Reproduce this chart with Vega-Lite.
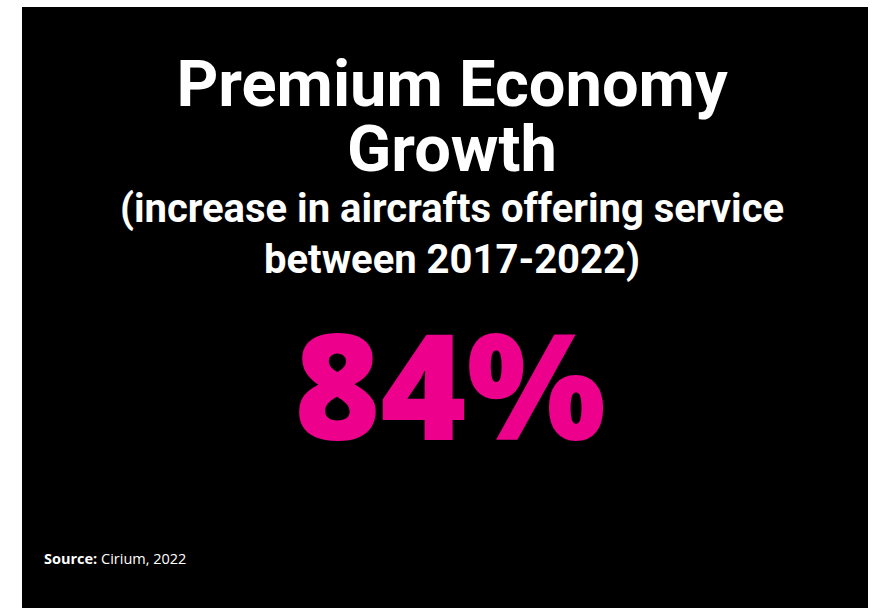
{
  "$schema": "https://vega.github.io/schema/vega-lite/v6.json",
  "width": 846,
  "height": 601,
  "padding": {"left": 22, "top": 7, "right": 12, "bottom": 0},
  "autosize": {"type": "none"},
  "background": "white",
  "title": {
    "text": ["Premium Economy", "Growth"],
    "subtitle": ["(increase in aircrafts offering service", "between 2017-2022)"],
    "anchor": "middle",
    "orient": "top",
    "offset": -275,
    "dx": 7,
    "font": "Roboto",
    "fontSize": 65,
    "fontWeight": "bold",
    "color": "white",
    "lineHeight": 65,
    "subtitleFont": "Roboto",
    "subtitleFontSize": 40,
    "subtitleFontWeight": "bold",
    "subtitleColor": "white",
    "subtitleLineHeight": 51,
    "subtitlePadding": 5
  },
  "layer": [
    {
      "data": {"values": [{"figure": "84%"}]},
      "mark": {"type": "text", "font": "Open Sans", "fontSize": 147, "fontWeight": 800, "color": "#EC008C", "baseline": "alphabetic", "dx": 5, "dy": 132},
      "encoding": {"text": {"field": "figure", "type": "nominal"}}
    },
    {
      "data": {"values": [{"label": "Source:"}]},
      "mark": {"type": "text", "font": "Open Sans", "fontSize": 14.5, "fontWeight": "bold", "color": "white", "align": "left", "baseline": "alphabetic"},
      "encoding": {"text": {"field": "label", "type": "nominal"}, "x": {"value": 22}, "y": {"value": 557}}
    },
    {
      "data": {"values": [{"label": "Cirium, 2022"}]},
      "mark": {"type": "text", "font": "Open Sans", "fontSize": 14.5, "fontWeight": "normal", "color": "white", "align": "left", "baseline": "alphabetic"},
      "encoding": {"text": {"field": "label", "type": "nominal"}, "x": {"value": 79}, "y": {"value": 557}}
    }
  ],
  "config": {
    "view": {"fill": "black", "stroke": null}
  }
}
